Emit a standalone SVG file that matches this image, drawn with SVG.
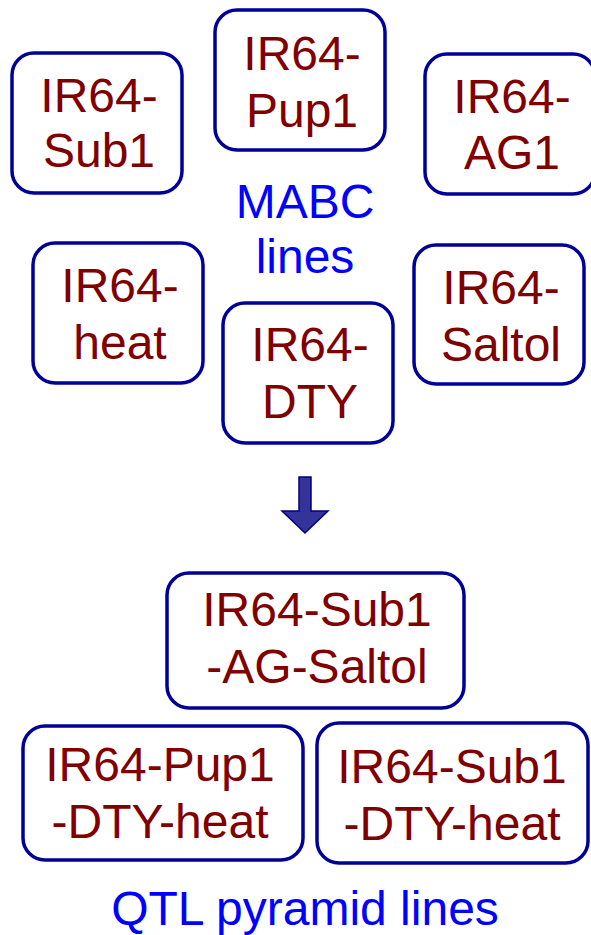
<svg xmlns="http://www.w3.org/2000/svg" width="591" height="935" viewBox="0 0 591 935">
  <style>
    .box { fill: #ffffff; stroke: #000099; stroke-width: 3.5; }
    .lbl { font-family: "Liberation Sans", Arial, sans-serif; font-size: 48px; fill: #800000; text-anchor: middle; }
    .cap { font-family: "Liberation Sans", Arial, sans-serif; font-size: 48px; fill: #0000ff; text-anchor: middle; }
    .arrow { fill: #333399; stroke: #000080; stroke-width: 1.5; stroke-linejoin: miter; }
  </style>
  <rect width="591" height="935" fill="#ffffff"/>

  <!-- single-trait MABC lines -->
  <g id="ir64-sub1">
    <rect class="box" x="12" y="53" width="170" height="140" rx="22"/>
    <text class="lbl" x="99" y="112">IR64-</text>
    <text class="lbl" x="99" y="167">Sub1</text>
  </g>
  <g id="ir64-pup1">
    <rect class="box" x="215" y="10" width="170" height="140" rx="22"/>
    <text class="lbl" x="302" y="70">IR64-</text>
    <text class="lbl" x="302" y="127">Pup1</text>
  </g>
  <g id="ir64-ag1">
    <rect class="box" x="425" y="54" width="170" height="140" rx="22"/>
    <text class="lbl" x="512" y="113">IR64-</text>
    <text class="lbl" x="512" y="169">AG1</text>
  </g>
  <g id="ir64-heat">
    <rect class="box" x="33" y="243" width="170" height="140" rx="22"/>
    <text class="lbl" x="120" y="302">IR64-</text>
    <text class="lbl" x="120" y="359">heat</text>
  </g>
  <g id="ir64-dty">
    <rect class="box" x="223" y="303" width="170" height="140" rx="22"/>
    <text class="lbl" x="310" y="361">IR64-</text>
    <text class="lbl" x="310" y="418">DTY</text>
  </g>
  <g id="ir64-saltol">
    <rect class="box" x="414" y="245" width="170" height="139" rx="22"/>
    <text class="lbl" x="501" y="304">IR64-</text>
    <text class="lbl" x="501" y="361">Saltol</text>
  </g>

  <g id="mabc-caption">
    <text class="cap" x="305" y="218">MABC</text>
    <text class="cap" x="305" y="273">lines</text>
  </g>

  <!-- block arrow from MABC lines to pyramids -->
  <g id="connectors">
    <path class="arrow" d="M299,477 L311,477 L311,511 L328,511 L305,533 L282,511 L299,511 Z"/>
  </g>

  <!-- QTL pyramid lines -->
  <g id="ir64-sub1-ag-saltol">
    <rect class="box" x="167" y="573" width="297" height="135" rx="22"/>
    <text class="lbl" x="317" y="626">IR64-Sub1</text>
    <text class="lbl" x="317" y="683">-AG-Saltol</text>
  </g>
  <g id="ir64-pup1-dty-heat">
    <rect class="box" x="23" y="726" width="280" height="134" rx="22"/>
    <text class="lbl" x="160" y="781">IR64-Pup1</text>
    <text class="lbl" x="160" y="838">-DTY-heat</text>
  </g>
  <g id="ir64-sub1-dty-heat">
    <rect class="box" x="317" y="723" width="271" height="140" rx="22"/>
    <text class="lbl" x="452" y="783">IR64-Sub1</text>
    <text class="lbl" x="452" y="840">-DTY-heat</text>
  </g>

  <g id="pyramid-caption">
    <text class="cap" x="305" y="925">QTL pyramid lines</text>
  </g>
</svg>
